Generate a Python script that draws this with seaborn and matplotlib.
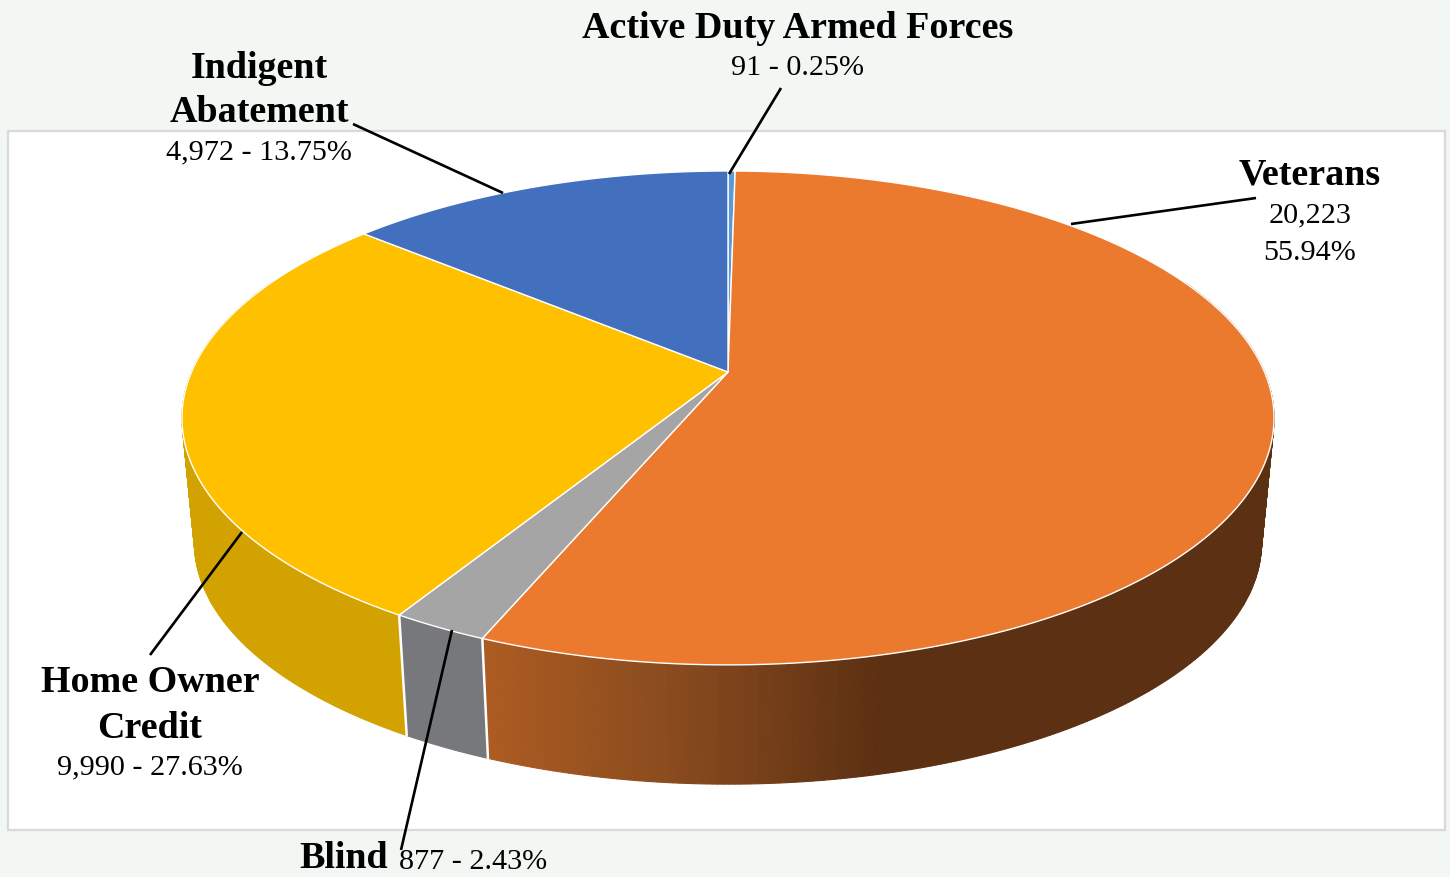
import numpy as np
import pandas as pd
import seaborn as sns
import matplotlib.pyplot as plt
from matplotlib.patches import Rectangle

# Data, clockwise from twelve o'clock
categories = ["Active Duty Armed Forces", "Veterans", "Blind", "Home Owner Credit", "Indigent Abatement"]
counts = [91, 20223, 877, 9990, 4972]
shares = [0.25, 55.94, 2.43, 27.63, 13.75]
top_colors = ["#5B9BD5", "#EB7A2F", "#A5A5A5", "#FFC000", "#4270BE"]
side_colors = ["#3F6F9C", "#AD5C22", "#77787C", "#D2A300", "#2F5597"]

BG = "#F2F7F3"
SERIF = "Liberation Serif"

# Camera of the tilted disc, in picture pixels
CX, CY = 728.0, 372.0
RX, RY = 536.5, 238.4
TILT = 0.186
# Lower rim is a slightly smaller copy of the upper rim
RIM_SCALE = 0.977
RIM_Y = 498.0

''' Project - Maps angles on the disc to the picture
        Input:
            theta - Angles in radians, clockwise from the top
            lower - True for the lower rim of the disc
        Output:
            [x, y] - The picture coordinates
'''
def Project(theta, lower=False):
    u, v = np.sin(theta), np.cos(theta)
    w = 1 + TILT * v
    dx, dy = RX * u / w, -RY * v / w
    if lower:
        return [CX + RIM_SCALE * dx, RIM_Y + RIM_SCALE * dy]
    return [CX + dx, CY + dy]

sns.set_theme(style="white")
plt.rcParams['font.family'] = [SERIF, 'DejaVu Serif']

df = pd.DataFrame({"category": categories, "count": counts, "share": shares,
                   "top": sns.color_palette(top_colors), "side": sns.color_palette(side_colors)})
edges = np.concatenate([[0], np.cumsum(df["count"])]) / df["count"].sum() * 2 * np.pi
df["start"], df["end"] = edges[:-1], edges[1:]

fig = plt.figure(figsize=(14.5, 8.77), dpi=100, facecolor=BG)
ax = fig.add_axes([0, 0, 1, 1])
ax.set_xlim(0, 1450)
ax.set_ylim(877, 0)
ax.axis("off")
ax.add_patch(Rectangle((8, 131), 1437, 699, facecolor="white", edgecolor="#D9D9D9", linewidth=1.6, zorder=0))

# Side wall, one thin strip per step, the shading of Veterans runs with x
veterans_shade = sns.blend_palette(["#AD5C22", "#874A1E", "#5C3012"], 101)
for _, row in df.iterrows():
    steps = np.arange(row["start"], row["end"], np.radians(0.5))
    steps = np.append(steps, row["end"])
    for a, b in zip(steps[:-1], steps[1:]):
        if np.cos(a) > 0.4 and np.cos(b) > 0.4:
            continue
        x1, y1 = Project(np.array([a, b]))
        x2, y2 = Project(np.array([b, a]), lower=True)
        color = row["side"]
        if row["category"] == "Veterans":
            color = veterans_shade[int(np.clip((x1[0] - 482) / 400, 0, 1) * 100)]
        ax.fill(np.r_[x1, x2], np.r_[y1, y2], color=color, linewidth=0.8, zorder=1)

# White seams on the front of the wall
for angle in [edges[2], edges[3]]:
    xt, yt = Project(angle)
    xb, yb = Project(angle, lower=True)
    ax.plot([xt, xb], [yt, yb], color="white", linewidth=1.8, zorder=2)

# Top of the disc
for _, row in df.iterrows():
    theta = np.linspace(row["start"], row["end"], 240)
    x, y = Project(theta)
    ax.fill(np.r_[CX, x], np.r_[CY, y], facecolor=row["top"], edgecolor="#FFFFFF", linewidth=1.0, zorder=3)

# Leader lines
leaders = [((781, 88), (729, 174)), ((353, 124), (503, 193)), ((1256, 198), (1071, 224)),
           ((150, 655), (242, 532)), ((401, 850), (452, 630))]
for (x0, y0), (x1, y1) in leaders:
    ax.plot([x0, x1], [y0, y1], color="black", linewidth=1.9, solid_capstyle="butt", zorder=4)

def CountLabel(i):
    return f"{counts[i]:,} - {shares[i]:.2f}%"

BOLD = 27.4
PLAIN = 21.7
def Bold(x, y, s, ha="center"):
    ax.text(x, y, s, fontsize=BOLD, fontweight="bold", ha=ha, va="center", color="black", zorder=5)
def Plain(x, y, s, ha="center"):
    ax.text(x, y, s, fontsize=PLAIN, ha=ha, va="center", color="black", zorder=5)

Bold(798, 29, categories[0])
Plain(798, 68, CountLabel(0))
Bold(259, 69, "Indigent")
Bold(259, 112, "Abatement")
Plain(259, 152, CountLabel(4))
Bold(1310, 175, categories[1])
Plain(1310, 215, f"{counts[1]:,}")
Plain(1310, 253, f"{shares[1]:.2f}%")
Bold(150, 682, "Home Owner")
Bold(150, 728, "Credit")
Plain(150, 767, CountLabel(3))
Bold(388, 859, categories[2], ha="right")
Plain(399, 862, CountLabel(2), ha="left")

fig.savefig("out.png", dpi=100, facecolor=BG)
